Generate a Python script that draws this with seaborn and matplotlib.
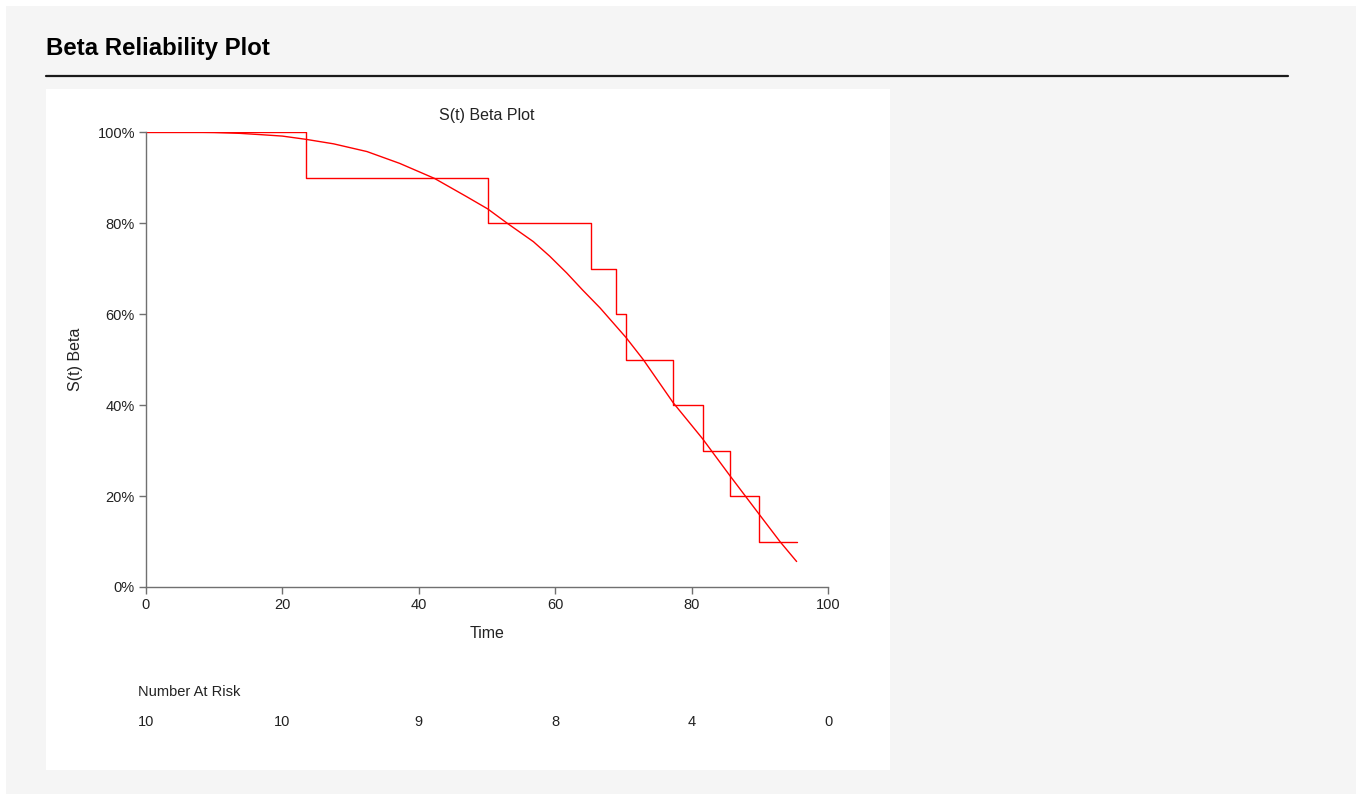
import matplotlib
matplotlib.use("Agg")
import matplotlib.pyplot as plt
from matplotlib.patches import Rectangle
from matplotlib.lines import Line2D
from matplotlib.ticker import PercentFormatter
import matplotlib.transforms as mtransforms
import seaborn as sns
import pandas as pd

# ---- data ----
step_time = [0, 23.4, 50.1, 65.2, 68.9, 70.4, 77.3, 81.6, 85.6, 89.9, 95.4]
step_surv = [1.0, 0.9, 0.8, 0.7, 0.6, 0.5, 0.4, 0.3, 0.2, 0.1, 0.1]

curve_time = [0, 5, 10, 13.8, 17, 20, 23.4, 27.5, 32.4, 37.2, 42.3, 47.0, 50.1,
              53.1, 56.8, 59.2, 61.7, 64.0, 66.6, 70.4, 72.9, 77.3, 81.6, 85.6,
              89.9, 93.0, 95.4]
curve_surv = [1.0, 1.0, 0.999, 0.997, 0.994, 0.991, 0.984, 0.974, 0.957, 0.931,
              0.898, 0.858, 0.831, 0.798, 0.759, 0.727, 0.690, 0.653, 0.613,
              0.548, 0.500, 0.405, 0.326, 0.245, 0.160, 0.099, 0.056]

risk_times = [0, 20, 40, 60, 80, 100]
risk_counts = [10, 10, 9, 8, 4, 0]

title = "Beta Reliability Plot"
plot_title = "S(t) Beta Plot"
xlabel = "Time"
ylabel = "S(t) Beta"
risk_title = "Number At Risk"

sns.set_style("white")
plt.rcParams['font.family'] = ['Liberation Sans', 'DejaVu Sans']

W, H = 1356, 794
fig = plt.figure(figsize=(W / 100, H / 100), dpi=100, facecolor="white")

# page background and white panel
fig.add_artist(Rectangle((6 / W, 0), 1 - 6 / W, 1 - 6 / H, transform=fig.transFigure,
                         facecolor="#f5f5f5", edgecolor="none", zorder=-3))
fig.add_artist(Rectangle((46 / W, 1 - 770 / H), 844 / W, 681 / H, transform=fig.transFigure,
                         facecolor="white", edgecolor="none", zorder=-2))
fig.text(46 / W, 1 - 48 / H, title, fontsize=17.3, fontweight="bold", color="black",
         ha="left", va="center")
fig.add_artist(Line2D([46 / W, 1288 / W], [1 - 76 / H, 1 - 76 / H], transform=fig.transFigure,
                      color="#1a1a1a", lw=1.6))

ax = fig.add_axes([146 / W, 1 - 587 / H, (828 - 146) / W, (587 - 132) / H])
ax.set_facecolor("none")

step_df = pd.DataFrame({"t": step_time, "s": step_surv})
curve_df = pd.DataFrame({"t": curve_time, "s": curve_surv})
sns.lineplot(data=step_df, x="t", y="s", ax=ax, color="#ff0000", lw=1.0,
             drawstyle="steps-post", estimator=None, sort=False)
sns.lineplot(data=curve_df, x="t", y="s", ax=ax, color="#ff0000", lw=1.0,
             estimator=None, sort=False)

ax.set_xlim(0, 100)
ax.set_ylim(0, 1)
ax.set_xticks(risk_times)
ax.set_yticks([0, 0.2, 0.4, 0.6, 0.8, 1.0])
ax.yaxis.set_major_formatter(PercentFormatter(1.0, decimals=0))
for side in ["top", "right"]:
    ax.spines[side].set_visible(False)
for side in ["left", "bottom"]:
    ax.spines[side].set_color("#707070")
    ax.spines[side].set_linewidth(1.0)
ax.tick_params(axis="both", which="major", direction="out", length=5, width=1.0,
               color="#707070", labelsize=10.5, labelcolor="#222222", pad=3,
               left=True, bottom=True)
ax.set_xlabel(xlabel, fontsize=11.5, color="#222222", labelpad=10)
ax.set_ylabel(ylabel, fontsize=11.5, color="#222222", labelpad=10.5)
ax.set_title(plot_title, fontsize=11.5, color="#222222", pad=8.5)

trans = mtransforms.blended_transform_factory(ax.transData, fig.transFigure)
fig.text(138 / W, 1 - 692 / H, risk_title, fontsize=10.5, color="#222222",
         ha="left", va="center")
for t, n in zip(risk_times, risk_counts):
    ax.text(t, 1 - 722 / H, str(n), transform=trans, fontsize=10.5, color="#222222",
            ha="center", va="center", clip_on=False)

fig.savefig("out.png", dpi=100, facecolor=fig.get_facecolor())
